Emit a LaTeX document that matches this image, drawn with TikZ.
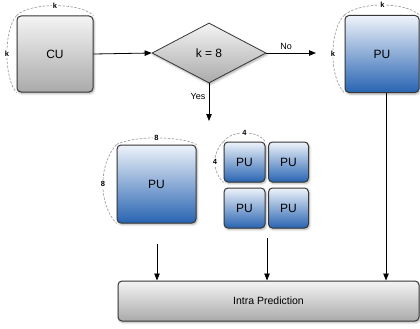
\documentclass[tikz,border=0pt]{standalone}
\usepackage{fontspec}
\setmainfont{Liberation Sans}
\usetikzlibrary{shapes.geometric,arrows.meta,shadows.blur}

\definecolor{edge}{RGB}{55,55,55}
\definecolor{greytop}{RGB}{244,244,244}
\definecolor{greybot}{RGB}{170,170,170}
\definecolor{bluetop}{RGB}{238,243,250}
\definecolor{bluebot}{RGB}{40,100,178}
\definecolor{dimline}{RGB}{160,160,160}

\tikzset{
  box/.style={draw=edge, line width=1pt, rounded corners=4pt,
    blur shadow={shadow xshift=1pt, shadow yshift=-1.5pt, shadow blur steps=4, shadow opacity=35}},
  greybox/.style={box, top color=greytop, bottom color=greybot},
  bluebox/.style={box, top color=bluetop, bottom color=bluebot},
  decision/.style={diamond, draw=edge, line width=0.8pt, top color=greytop, bottom color=greybot,
    inner sep=1pt, minimum width=114pt, minimum height=60pt,
    blur shadow={shadow xshift=1pt, shadow yshift=-1.5pt, shadow blur steps=4, shadow opacity=35}},
  flow/.style={-{Triangle[length=7pt,width=5.5pt]}, line width=0.8pt, black},
  dimarc/.style={dimline, dash pattern=on 2.5pt off 1.5pt, line width=0.7pt},
  dimlabel/.style={fill=white, text=black, inner sep=1pt, font=\bfseries\fontsize{7.5}{8}\selectfont},
  lbl/.style={font=\fontsize{9}{10}\selectfont},
  big/.style={font=\fontsize{12}{14}\selectfont},
}

\begin{document}
\begin{tikzpicture}[x=1pt, y=-1pt]
\useasboundingbox (0,0) rectangle (420,329);

% coding unit and the size test
\node[greybox, big, minimum width=76pt, minimum height=76pt] (cu) at (55,54) {CU};
\node[decision, big] (test) at (209,53) {k = 8};

% one prediction unit of full size
\node[bluebox, big, minimum width=74pt, minimum height=77pt] (pubig) at (382,54) {PU};

% 8x8 case: one unit or four 4x4 units
\node[bluebox, big, minimum width=79pt, minimum height=78pt] (pueight) at (156.5,184) {PU};
\node[bluebox, big, minimum width=41pt, minimum height=40pt] (puA) at (244.5,162) {PU};
\node[bluebox, big, minimum width=40pt, minimum height=40pt] (puB) at (288.5,162) {PU};
\node[bluebox, big, minimum width=41pt, minimum height=40pt] (puC) at (244.5,208) {PU};
\node[bluebox, big, minimum width=40pt, minimum height=40pt] (puD) at (288.5,208) {PU};

% intra prediction stage
\node[greybox, minimum width=301pt, minimum height=40pt, font=\fontsize{10.5}{12}\selectfont] (intra) at (268.5,301) {Intra Prediction};

% size annotations
\draw[dimarc] (cu.north west) .. controls (30,2.3) and (80,2.3) .. (cu.north east)
  node[pos=0.5, dimlabel] (kcut) {k};
\draw[dimarc] (cu.north west) .. controls (3.7,30) and (3.7,78) .. (cu.south west)
  node[pos=0.5, dimlabel] (kcul) {k};
\draw[dimarc] (pubig.north west) .. controls (360,1.7) and (405,1.7) .. (pubig.north east)
  node[pos=0.5, dimlabel] (kput) {k};
\draw[dimarc] (pubig.north west) .. controls (329,30) and (329,78) .. (pubig.south west)
  node[pos=0.5, dimlabel] (kpul) {k};
\draw[dimarc] (pueight.north west) .. controls (133,135.7) and (180,135.7) .. (pueight.north east)
  node[pos=0.5, dimlabel] (eightt) {8};
\draw[dimarc] (pueight.north west) .. controls (98.3,165) and (98.3,204) .. (pueight.south west)
  node[pos=0.5, dimlabel] (eightl) {8};
\draw[dimarc] (puA.north west) .. controls (232,130) and (257,130) .. (puA.north east)
  node[pos=0.5, dimlabel] (fourt) {4};
\draw[dimarc] (puA.north west) .. controls (212,152) and (212,172) .. (puA.south west)
  node[pos=0.5, dimlabel] (fourl) {4};

% flow
\coordinate (noend) at (316,53);
\coordinate (yesend) at (209,121);
\coordinate (eightout) at (157,244);
\coordinate (fourout) at (267,238);

\draw[flow] (cu.east) -- (test.west);
\draw[flow] (test.east) -- node[lbl, above, pos=0.4] (nolbl) {No} (noend);
\draw[flow] (test.south) -- node[lbl, left, pos=0.35] (yeslbl) {Yes} (yesend);

\draw[flow] (eightout) -- (eightout |- intra.north);
\draw[flow] (fourout) -- (fourout |- intra.north);
\draw[flow] ([xshift=4pt]pubig.south) -- ([xshift=4pt]pubig.south |- intra.north);
\end{tikzpicture}
\end{document}
